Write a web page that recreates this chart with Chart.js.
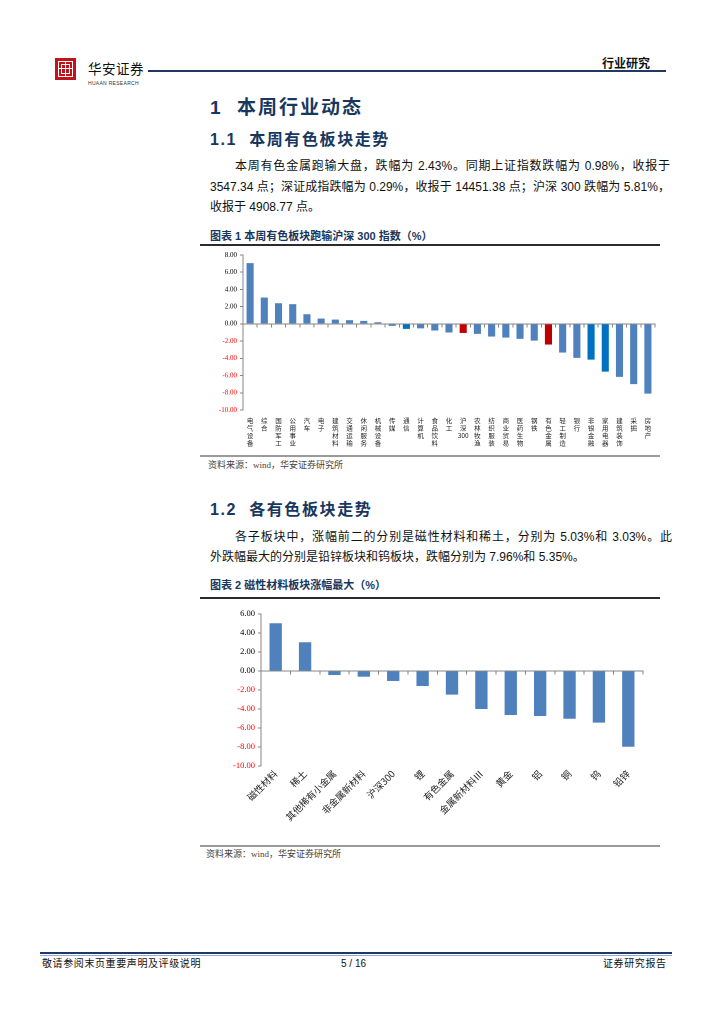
<!DOCTYPE html>
<html>
<head>
<meta charset="utf-8">
<script src="https://cdn.jsdelivr.net/npm/chart.js@4"></script>
<style>
  body { margin: 0; background: #fff; font-family: "Liberation Sans", "Noto Sans CJK SC", sans-serif; color: #111; }
  #page { position: relative; width: 724px; height: 1024px; overflow: hidden; }
  .abs { position: absolute; white-space: nowrap; }
  .navy { color: #17375E; }
  .line { position: absolute; }
  .para { position: absolute; font-size: 12px; line-height: 20px; text-align: justify; text-align-last: justify; }
  .src { position: absolute; font-size: 9px; color: #444; font-family: "Liberation Serif", "Noto Sans CJK SC", serif; }
  canvas { position: absolute; }
</style>
</head>
<body>
<div id="page">
  <!-- en-tete -->
  <div class="abs" style="left:55px;top:58px;width:21px;height:22px;background:#C0141C;"></div>
  <div class="abs" style="left:58px;top:61px;width:13px;height:14px;border:1px solid #fff;"></div>
  <div class="abs" style="left:61px;top:64px;width:7px;height:8px;border:1px solid #fff;"></div>
  <div class="abs" style="left:65px;top:61px;width:1px;height:16px;background:#fff;"></div>
  <div class="abs" style="left:58px;top:68px;width:15px;height:1px;background:#fff;"></div>
  <div class="abs" style="left:88px;top:61px;font-size:13.5px;line-height:17px;letter-spacing:0.5px;color:#111;">华安证券</div>
  <div class="abs" style="left:88px;top:80px;font-size:5px;line-height:6px;color:#333;letter-spacing:0.3px;">HUAAN RESEARCH</div>
  <div class="line" style="left:148px;top:70px;width:518px;height:1.5px;background:#1F3864;"></div>
  <div class="abs" style="left:602px;top:56px;font-size:12px;line-height:16px;font-weight:bold;">行业研究</div>

  <!-- titres -->
  <div class="abs navy" style="left:210px;top:95px;font-size:19px;line-height:26px;font-weight:bold;letter-spacing:2px;">1&nbsp;&nbsp;本周行业动态</div>
  <div class="abs navy" style="left:210px;top:129px;font-size:16px;line-height:22px;font-weight:bold;letter-spacing:1.6px;">1.1&nbsp;&nbsp;本周有色板块走势</div>

  <div class="para" style="left:235px;top:156px;width:435px;">本周有色金属跑输大盘，跌幅为 2.43%。同期上证指数跌幅为 0.98%，收报于</div>
  <div class="para" style="left:210px;top:177px;width:460px;">3547.34 点；深证成指跌幅为 0.29%，收报于 14451.38 点；沪深 300 跌幅为 5.81%，</div>
  <div class="abs" style="left:210px;top:197px;font-size:12px;line-height:20px;">收报于 4908.77 点。</div>

  <div class="abs navy" style="left:210px;top:228px;font-size:11px;line-height:16px;font-weight:bold;">图表 1 本周有色板块跑输沪深 300 指数（%）</div>
  <div class="line" style="left:200px;top:244px;width:460px;height:2px;background:#2b2b2b;"></div>
  <canvas id="chart1" style="left:200px;top:247px;width:460px;height:207px;"></canvas>
  <div class="line" style="left:200px;top:455px;width:460px;height:1.5px;background:#9a9a9a;"></div>
  <div class="src" style="left:208px;top:458px;">资料来源：wind，华安证券研究所</div>

  <div class="abs navy" style="left:210px;top:499px;font-size:16px;line-height:22px;font-weight:bold;letter-spacing:1.6px;">1.2&nbsp;&nbsp;各有色板块走势</div>
  <div class="para" style="left:235px;top:527px;width:437px;">各子板块中，涨幅前二的分别是磁性材料和稀土，分别为 5.03%和 3.03%。此</div>
  <div class="abs" style="left:210px;top:547px;font-size:12px;line-height:20px;">外跌幅最大的分别是铅锌板块和钨板块，跌幅分别为 7.96%和 5.35%。</div>

  <div class="abs navy" style="left:210px;top:577px;font-size:11px;line-height:16px;font-weight:bold;">图表 2 磁性材料板块涨幅最大（%）</div>
  <div class="line" style="left:200px;top:597px;width:460px;height:2px;background:#2b2b2b;"></div>
  <canvas id="chart2" style="left:200px;top:600px;width:460px;height:244px;"></canvas>
  <div class="line" style="left:200px;top:845px;width:460px;height:1.5px;background:#9a9a9a;"></div>
  <div class="src" style="left:206px;top:847px;">资料来源：wind，华安证券研究所</div>

  <!-- pied de page -->
  <div class="line" style="left:40px;top:952px;width:632px;height:2px;background:#1F3864;"></div>
  <div class="line" style="left:40px;top:955px;width:632px;height:1px;background:#8EA9DB;"></div>
  <div class="abs" style="left:42px;top:957px;font-size:10px;line-height:14px;letter-spacing:0.6px;">敬请参阅末页重要声明及评级说明</div>
  <div class="abs" style="left:341px;top:957px;font-size:10px;line-height:14px;">5 / 16</div>
  <div class="abs" style="left:603px;top:957px;font-size:10px;line-height:14px;letter-spacing:0.6px;">证券研究报告</div>
</div>

<script>
// Graphique 1 : secteurs (%), semaine
const sectors = ["电气设备", "综合", "国防军工", "公用事业", "汽车", "电子", "建筑材料", "交通运输",
  "休闲服务", "机械设备", "传媒", "通信", "计算机", "食品饮料", "化工", "沪深300", "农林牧渔",
  "纺织服装", "商业贸易", "医药生物", "钢铁", "有色金属", "轻工制造", "银行", "非银金融",
  "家用电器", "建筑装饰", "采掘", "房地产"];
const sectorChange = [7.05, 3.06, 2.40, 2.29, 1.12, 0.62, 0.50, 0.43, 0.35, 0.19, -0.23, -0.58, -0.52,
  -0.77, -1.00, -1.05, -1.16, -1.47, -1.59, -1.74, -1.94, -2.40, -3.33, -3.95, -4.15, -5.54, -6.16,
  -7.00, -8.10];
const sectorRed = ["沪深300", "有色金属"];
const sectorDark = ["通信", "非银金融", "家用电器"];
const ticks1 = [8, 6, 4, 2, 0, -2, -4, -6, -8, -10];

// Graphique 2 : sous-secteurs des métaux non ferreux (%)
const subSectors = ["磁性材料", "稀土", "其他稀有小金属", "非金属新材料", "沪深300", "锂", "有色金属",
  "金属新材料Ⅲ", "黄金", "铝", "铜", "钨", "铅锌"];
const subChange = [5.02, 3.02, -0.42, -0.60, -1.05, -1.58, -2.49, -4.00, -4.63, -4.74, -5.02, -5.44, -7.98];
const ticks2 = [6, 4, 2, 0, -2, -4, -6, -8, -10];

const axisGrey = "#868686";

function yScale(tickList, fontSize, width) {
  return {
    min: Math.min(...tickList),
    max: Math.max(...tickList),
    afterBuildTicks: function(scale) {
      scale.ticks = tickList.map(v => ({ value: v }));
    },
    afterFit: function(scale) { scale.width = width; },
    border: { display: true, color: axisGrey, width: 1 },
    grid: { display: true, drawOnChartArea: false, drawTicks: true, tickLength: 3, color: axisGrey },
    ticks: {
      padding: 3,
      color: ctx => ctx.tick.value < 0 ? "#FF0000" : "#000",
      font: { family: "Liberation Serif", size: fontSize },
      callback: v => v.toFixed(2)
    }
  };
}

function zeroAxis() {
  // axe horizontal posé sur 0, seulement la ligne et les graduations
  return {
    type: "category",
    position: { y: 0 },
    border: { display: true, color: axisGrey, width: 1 },
    grid: { display: true, offset: true, drawOnChartArea: false, drawTicks: true, tickLength: 3, color: axisGrey },
    ticks: { display: false }
  };
}

// Graphique 1
var ctx1 = document.getElementById("chart1").getContext("2d");
new Chart(ctx1, {
  type: "bar",
  data: {
    labels: sectors,
    datasets: [{
      data: sectorChange,
      xAxisID: "x",
      yAxisID: "y",
      backgroundColor: ctx => {
        let name = sectors[ctx.dataIndex];
        if (sectorRed.includes(name)) return "#C00000";
        if (sectorDark.includes(name)) return "#0070C0";
        return "#4F81BD";
      },
      categoryPercentage: 1,
      barPercentage: 0.5
    }]
  },
  options: {
    responsive: false,
    animation: false,
    devicePixelRatio: 2,
    layout: { padding: { top: 8, right: 5, left: 0, bottom: 0 } },
    plugins: { legend: { display: false }, tooltip: { enabled: false } },
    scales: {
      y: yScale(ticks1, 7, 43),
      x: zeroAxis(),
      xl: {
        type: "category",
        axis: "x",
        position: "bottom",
        afterFit: function(scale) { scale.height = 44; },
        border: { display: false },
        grid: { display: false, drawTicks: false },
        ticks: {
          autoSkip: false,
          maxRotation: 0,
          minRotation: 0,
          padding: 7,
          color: "#222",
          font: { family: "Noto Sans CJK SC", size: 6.5, lineHeight: 1.15 },
          callback: function(v) {
            let s = this.getLabelForValue(v);
            // les chiffres restent groupés, les caractères chinois sont empilés
            return s.match(/[0-9]+|./g);
          }
        }
      }
    }
  }
});

// Graphique 2
var ctx2 = document.getElementById("chart2").getContext("2d");
new Chart(ctx2, {
  type: "bar",
  data: {
    labels: subSectors,
    datasets: [{
      data: subChange,
      xAxisID: "x",
      yAxisID: "y",
      backgroundColor: "#4F81BD",
      categoryPercentage: 1,
      barPercentage: 0.42
    }]
  },
  options: {
    responsive: false,
    animation: false,
    devicePixelRatio: 2,
    layout: { padding: { top: 14, right: 17, left: 0, bottom: 0 } },
    plugins: { legend: { display: false }, tooltip: { enabled: false } },
    scales: {
      y: yScale(ticks2, 8.5, 61),
      x: zeroAxis(),
      xl: {
        type: "category",
        axis: "x",
        position: "bottom",
        afterFit: function(scale) { scale.height = 78; },
        border: { display: false },
        grid: { display: false, drawTicks: false },
        ticks: {
          autoSkip: false,
          maxRotation: 45,
          minRotation: 45,
          padding: 2,
          color: "#222",
          font: { family: "Noto Sans CJK SC", size: 9.5 }
        }
      }
    }
  }
});
</script>
</body>
</html>
